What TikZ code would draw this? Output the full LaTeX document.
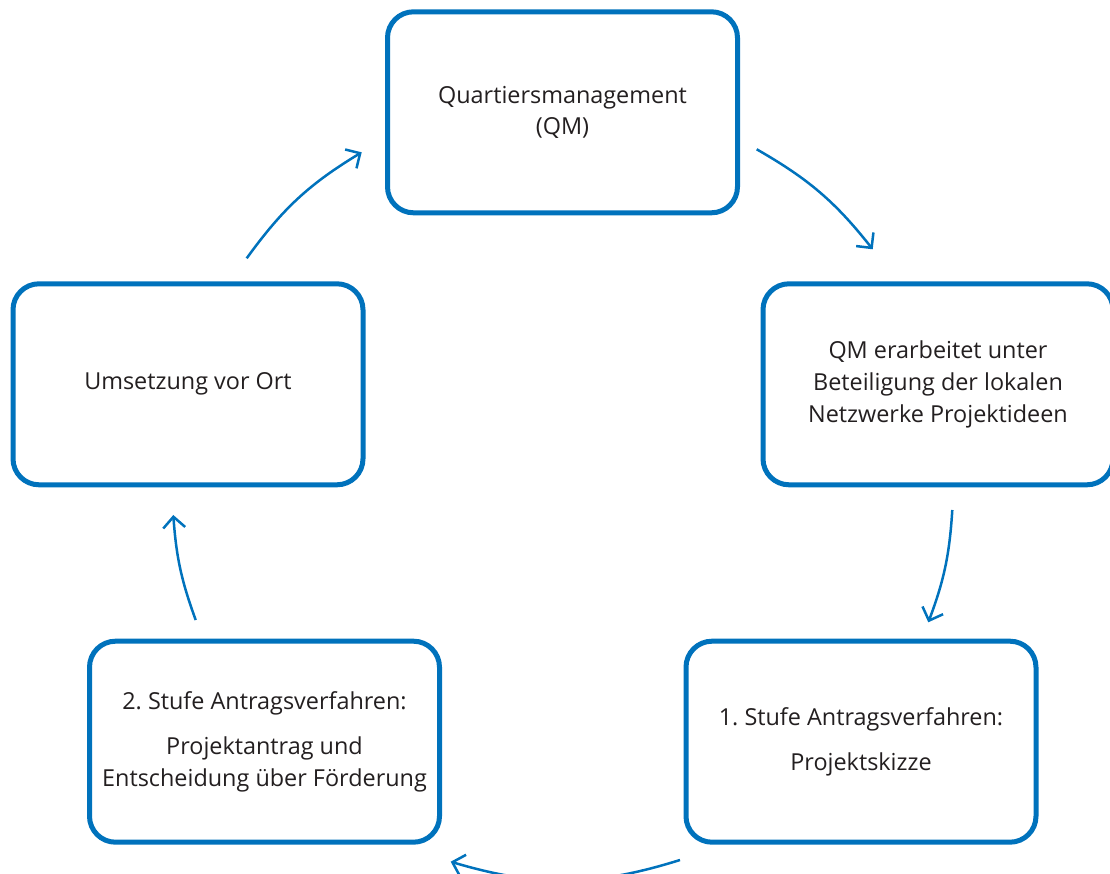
\documentclass[tikz,border=0pt]{standalone}
\usepackage{fontspec}
\setmainfont{Open Sans}
\usepackage{tikz}
\usetikzlibrary{arrows.meta}
\definecolor{qmblue}{HTML}{0072BC}
\definecolor{txtgray}{HTML}{231F20}
\frenchspacing

\begin{document}
\begin{tikzpicture}
  [x=0.5pt,y=0.5pt,
   box/.style={draw=qmblue,line width=2.5pt,rounded corners=13pt,fill=white,
     minimum width=175pt,minimum height=100.5pt,align=center,text=txtgray,
     font=\fontsize{11.7pt}{15.85pt}\selectfont},
   arr/.style={draw=qmblue,line width=1.25pt,-{Straight Barb[length=5.5pt,width=11pt]}}]
  \useasboundingbox (0,0) rectangle (1110,874);
  \node[box] (n1) at (562.5,761.7) {Quartiersmanagement\\(QM)};
  \node[box] (n2) at (938,489.7)   {QM erarbeitet unter\\Beteiligung der lokalen\\Netzwerke Projektideen};
  \node[box] (n3) at (861,132.3)   {1. Stufe Antragsverfahren:\\[6.5pt]Projektskizze};
  \node[box] (n4) at (264.5,132.3) {2. Stufe Antragsverfahren:\\[6.5pt]Projektantrag und\\Entscheidung über Förderung};
  \node[box] (n5) at (188,489.7)   {Umsetzung vor Ort};

  \coordinate (s1) at (756.7,724.7); \coordinate (e1) at (872.7,624.7);
  \coordinate (s2) at (952.3,364);   \coordinate (e2) at (928.3,251.7);
  \coordinate (s3) at (680,14);      \coordinate (e3) at (450.7,12.3);
  \coordinate (s4) at (195.7,254);   \coordinate (e4) at (173.3,359);
  \coordinate (s5) at (246.7,615.7); \coordinate (e5) at (361.7,721.7);

  \foreach \from/\to/\b in {s1/e1/11,s2/e2/8.5,s3/e3/17,s4/e4/8,s5/e5/11.5}
    \draw[arr] (\from) to[bend left=\b] (\to);
\end{tikzpicture}
\end{document}
